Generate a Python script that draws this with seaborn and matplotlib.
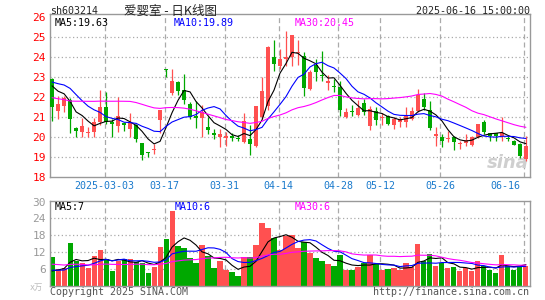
import numpy as np
import pandas as pd
import matplotlib
matplotlib.use("Agg")
import matplotlib.pyplot as plt
import seaborn as sns

# 爱婴室 sh603214 日K线, 2025-02-18 .. 2025-06-16 (80 个交易日)
holidays = ['2025-04-04', '2025-05-01', '2025-05-02', '2025-05-05', '2025-06-02']

opens = [22.92, 21.28, 21.53, 21.87, 20.47, 20.23, 20.18, 20.25, 20.77, 21.52,
         20.77, 20.53, 20.72, 20.40, 20.62, 19.70, 19.22, 19.35, 20.83, 23.40,
         22.20, 22.73, 22.37, 21.67, 21.03, 20.93, 20.52, 20.22, 19.98, 19.93,
         20.03, 19.92, 19.73, 19.92, 19.53, 21.00, 21.53, 24.00, 23.57, 23.90,
         24.00, 24.20, 24.03, 22.40, 23.62, 23.12, 22.70, 22.55, 22.50, 21.00,
         21.30, 21.12, 21.70, 20.53, 21.28, 20.93, 21.03, 20.62, 20.73, 20.73,
         20.90, 21.28, 21.90, 21.37, 20.03, 20.00, 19.90, 20.00, 19.65, 19.70,
         19.62, 20.00, 20.73, 20.20, 20.20, 20.03, 19.95, 19.82, 19.67, 18.90]
highs = [22.95, 22.07, 22.07, 21.95, 20.50, 20.95, 20.50, 20.95, 22.37, 22.23,
         20.90, 22.00, 20.75, 21.20, 20.65, 19.70, 19.25, 19.65, 21.37, 23.42,
         23.40, 22.78, 23.17, 21.73, 21.82, 21.62, 21.00, 20.42, 20.42, 20.27,
         20.20, 20.10, 21.20, 20.62, 21.57, 22.98, 24.53, 24.87, 24.40, 25.28,
         25.12, 24.87, 24.23, 23.37, 23.90, 24.28, 23.12, 22.90, 22.78, 21.45,
         21.62, 21.87, 21.90, 21.57, 21.50, 21.20, 21.12, 21.00, 21.00, 21.48,
         21.50, 22.40, 22.20, 21.82, 20.50, 20.17, 20.28, 20.03, 19.78, 20.15,
         20.07, 20.65, 20.87, 20.20, 20.20, 21.00, 20.05, 19.85, 19.70, 20.03]
lows = [20.78, 20.92, 21.23, 20.20, 20.00, 20.00, 20.00, 20.00, 20.62, 20.65,
        20.00, 20.23, 20.28, 20.00, 19.73, 18.83, 19.00, 19.17, 20.20, 22.98,
        22.12, 22.08, 21.67, 20.90, 20.43, 20.00, 20.17, 19.92, 19.48, 19.53,
        19.78, 19.78, 19.70, 19.10, 19.48, 20.90, 21.37, 23.28, 23.40, 23.55,
        23.57, 23.62, 22.03, 22.33, 22.78, 22.78, 22.37, 22.23, 21.07, 20.95,
        21.03, 21.07, 21.12, 20.33, 20.62, 20.62, 20.62, 20.40, 20.50, 20.50,
        20.85, 21.23, 21.37, 20.33, 19.57, 19.50, 19.73, 19.33, 19.40, 19.53,
        19.53, 19.95, 20.17, 19.78, 19.82, 19.78, 19.80, 19.60, 18.95, 18.78]
closes = [21.48, 21.67, 21.95, 20.90, 20.28, 20.57, 20.27, 20.77, 21.52, 20.77,
          20.63, 21.07, 20.62, 20.70, 19.90, 19.12, 19.18, 19.38, 21.33, 23.37,
          22.82, 22.28, 21.83, 20.98, 20.95, 21.23, 20.33, 20.08, 20.17, 20.07,
          19.93, 19.88, 20.82, 19.65, 21.57, 22.32, 24.50, 23.67, 23.90, 23.98,
          25.12, 24.25, 22.45, 23.25, 23.23, 23.03, 22.78, 22.52, 21.37, 21.23,
          21.27, 21.45, 21.23, 21.40, 20.83, 20.97, 20.67, 20.90, 20.90, 21.12,
          21.28, 22.12, 21.50, 20.45, 20.17, 19.78, 19.93, 19.73, 19.68, 19.87,
          20.00, 20.65, 20.23, 20.03, 20.03, 20.20, 19.92, 19.62, 19.03, 19.57]
# 成交量 (万手)
volumes = [10.3, 5.9, 6.25, 15.3, 8.75, 7.9, 6.4, 10.5, 12.7, 9.3,
           5.2, 8.9, 9.3, 9.5, 8.5, 8.2, 4.6, 6.7, 13.9, 16.7,
           26.7, 14.2, 13.5, 9.7, 8.2, 14.5, 10.7, 6.1, 8.9, 5.5,
           4.9, 3.5, 10.2, 10.2, 14.5, 22.4, 20.7, 17.1, 12.7, 17.8,
           17.9, 13.5, 15.5, 11.7, 9.9, 8.8, 7.7, 7.0, 10.9, 5.5,
           5.5, 6.7, 8.0, 10.8, 7.8, 5.5, 5.9, 6.4, 5.5, 8.0,
           6.7, 14.8, 8.8, 11.1, 6.9, 7.9, 6.1, 6.7, 5.2, 6.1,
           5.2, 8.8, 7.1, 5.5, 4.6, 10.9, 7.1, 5.5, 6.7, 7.1]
# 图外更早的 29 天, 只用来让均线从第一根K线开始
hist_close = [23.3, 23.2, 23.1, 20.5, 20.6, 20.4, 20.8, 21.2, 20.9, 20.7,
              21.0, 20.7, 20.9, 21.6, 21.8, 22.0, 21.9, 22.1, 22.3, 22.5,
              22.5, 22.6, 22.6, 23.4, 23.6, 23.0, 22.6, 22.8, 22.9]
hist_vol = [9.5, 11.2, 8.0, 7.4, 9.8, 12.5, 8.9, 7.1, 6.8, 8.3,
            9.6, 10.4, 7.7, 6.9, 8.5, 9.2, 7.8, 8.1, 9.0, 6.3,
            6.4, 5.5, 6.1, 5.6, 5.4, 4.2, 3.6, 4.1, 3.8]

tick_dates = ['2025-03-03', '2025-03-17', '2025-03-31', '2025-04-14',
              '2025-04-28', '2025-05-12', '2025-05-26', '2025-06-16']
tick_labels = ['2025-03-03', '03-17', '03-31', '04-14', '04-28', '05-12', '05-26', '06-16']

RED = '#ff5050'
GREEN = '#00a800'
GRID = '#aaaaaa'

dates = pd.bdate_range('2025-02-18', '2025-06-16')
dates = dates[~dates.isin(pd.to_datetime(holidays))]
o, h, l, c = map(np.array, (opens, highs, lows, closes))
x = np.arange(len(c))
up = c >= o
cols = np.where(up, RED, GREEN)


def ma(hist, vals, n):
    s = pd.Series(np.r_[hist, vals]).rolling(n).mean().to_numpy()
    return s[len(hist):]


sns.set_style("white")
plt.rcParams['font.family'] = ['DejaVu Sans Mono', 'Noto Sans CJK SC']

W, H = 545, 300
fig = plt.figure(figsize=(W / 100, H / 100), dpi=100)


def box(left, top, right, bottom):
    return [left / W, 1 - bottom / H, (right - left) / W, (bottom - top) / H]


ax = fig.add_axes(box(50, 14, 529.5, 177))
axv = fig.add_axes(box(50, 201, 529.5, 285.5))

tick_idx = [int(np.where(dates == pd.Timestamp(d))[0][0]) for d in tick_dates]

for a in (ax, axv):
    for j in tick_idx:
        a.axvline(j - 0.25, color=GRID, lw=0.9, ls=(0, (4, 2.5)), zorder=0)
    for s in a.spines.values():
        s.set_color('#999999')
        s.set_linewidth(1)

# --- K线 ---
for v in range(19, 26):
    ax.axhline(v, color=GRID, lw=0.9, ls=(0, (1, 2)), zorder=0)
ax.vlines(x, l, h, colors=cols, lw=0.9, zorder=2)
ax.bar(x, np.maximum(np.abs(c - o), 0.05), bottom=np.minimum(o, c),
       width=0.8, color=cols, linewidth=0, zorder=3)

for n, colr in ((5, 'black'), (10, '#0000ff'), (30, '#ff00ff')):
    sns.lineplot(x=x, y=ma(hist_close, c, n), ax=ax, color=colr, lw=0.8, zorder=4)

ax.set_xlim(-0.35, 79.6)
ax.set_ylim(18, 26.15)
ax.set_xticks([])
ax.set_yticks(range(18, 27))
ax.tick_params(axis='y', length=0, pad=3, labelcolor='red', labelsize=8)
ax.set_xlabel('')
ax.set_ylabel('')

for j, lab in zip(tick_idx, tick_labels):
    if lab == tick_labels[-1]:
        ax.text(j - 1, -0.055, lab, transform=ax.get_xaxis_transform(),
                ha='right', va='center', color='#1a7acc', fontsize=7.2)
    else:
        ax.text(j - 0.25, -0.055, lab, transform=ax.get_xaxis_transform(),
                ha='center', va='center', color='#1a7acc', fontsize=7.2)

ax.text(0.955, 0.085, 'sina', transform=ax.transAxes, ha='center', va='center',
        color='#cfcfcf', fontsize=13, fontweight='bold', style='italic',
        family='DejaVu Sans', zorder=1)

# --- 成交量 ---
for v in range(6, 30, 6):
    axv.axhline(v, color=GRID, lw=0.9, ls=(0, (1, 2)), zorder=0)
vol_df = pd.DataFrame({'x': x, 'vol': volumes, 'dir': np.where(up, 'up', 'down')})
sns.barplot(data=vol_df, x='x', y='vol', hue='dir', palette={'up': RED, 'down': GREEN},
            native_scale=True, dodge=False, width=0.85, saturation=1,
            errorbar=None, legend=False, linewidth=0, ax=axv, zorder=2)
v = np.array(volumes)
for n, colr in ((5, 'black'), (10, '#0000ff'), (30, '#ff00ff')):
    sns.lineplot(x=x, y=ma(hist_vol, v, n), ax=axv, color=colr, lw=0.8, zorder=4)

axv.set_xlim(-0.35, 79.6)
axv.set_ylim(0, 30.2)
axv.set_xticks([])
axv.set_yticks(range(6, 31, 6))
axv.tick_params(axis='y', length=0, pad=3, labelcolor='#999999', labelsize=8)
axv.set_xlabel('')
axv.set_ylabel('')


# --- 文字 ---
def put(px, py, s, **kw):
    kw.setdefault('fontsize', 7.2)
    kw.setdefault('va', 'center')
    fig.text(px / W, 1 - py / H, s, **kw)


put(50, 11, 'sh603214')
put(171, 11, '爱婴室 - 日K线图', ha='center', fontsize=9,
    family=['Noto Sans CJK SC', 'DejaVu Sans'])
put(529.5, 11, '2025-06-16 15:00:00', ha='right')
put(55, 23.5, 'MA5:19.63', color='black')
put(174, 23.5, 'MA10:19.89', color='#0000ff')
put(295, 23.5, 'MA30:20.45', color='#ff00ff')
put(55, 206.5, 'MA5:7', color='black')
put(175, 206.5, 'MA10:6', color='#0000ff')
put(295, 206.5, 'MA30:6', color='#ff00ff')
put(50, 292, 'Copyright 2025 SINA.COM', color='#555555')
put(529.5, 292, 'http://finance.sina.com.cn', ha='right', color='#555555')
put(36, 287, 'x万', ha='center', color='#bbbbbb', fontsize=6)

fig.savefig('out.png', dpi=100)
